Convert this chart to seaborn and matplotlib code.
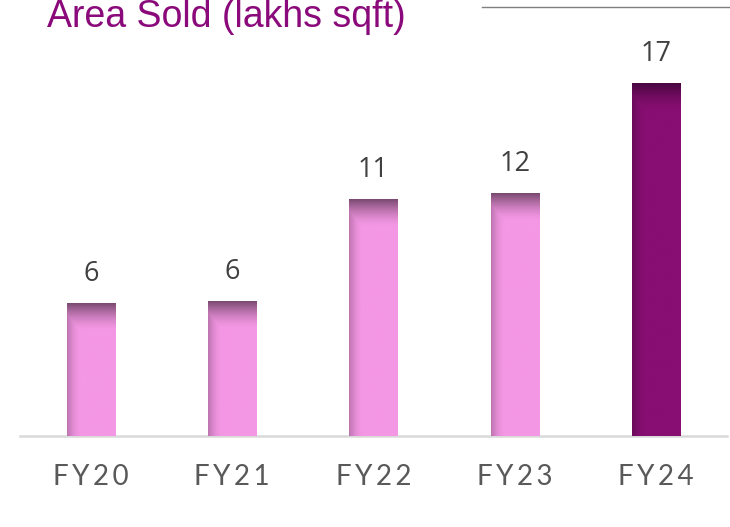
import numpy as np
import pandas as pd
import seaborn as sns
from matplotlib import pyplot as plt
from matplotlib import colors as mpl_colors
from matplotlib.lines import Line2D

years = ["FY20", "FY21", "FY22", "FY23", "FY24"]
area_sold = [6.4, 6.5, 11.4, 11.7, 17.0]
value_labels = ["6", "6", "11", "12", "17"]

PINK = "#F497E4"
PINK_TOP = "#7A4A70"
PLUM = "#870E72"
PLUM_TOP = "#4A0740"


def shade_bar(ax, patch, base, top, band=1.3, left_frac=0.3):
    # gradient overlay: dark top band + soft shadow on the left edge
    x0, y0 = patch.get_x(), patch.get_y()
    w, h = patch.get_width(), patch.get_height()
    ny, nx = 300, 60
    yy = np.linspace(h, 0, ny)[:, None]
    xx = np.linspace(0, 1, nx)[None, :]
    d_top = h - yy
    t_top = np.clip(1 - d_top / band, 0, 1) ** 1.5
    t_left = np.clip(1 - xx / left_frac, 0, 1) ** 2 * 0.45
    t = np.maximum(t_top, t_left)
    b = np.array(mpl_colors.to_rgb(base))
    c = np.array(mpl_colors.to_rgb(top))
    img = b[None, None, :] * (1 - t[..., None]) + c[None, None, :] * t[..., None]
    im = ax.imshow(img, extent=(x0, x0 + w, y0, y0 + h), origin="upper",
                   aspect="auto", zorder=3, interpolation="bilinear")
    im.set_clip_path(patch)


df = pd.DataFrame({"Year": years, "Area": area_sold})

fig = plt.figure(figsize=(7.3, 5.27), dpi=100)
ax = fig.add_axes([20 / 730, 91 / 527, 707 / 730, 436 / 527])

palette = [PINK, PINK, PINK, PINK, PLUM]
sns.barplot(data=df, x="Year", y="Area", hue="Year", palette=palette,
            width=0.34, legend=False, ax=ax, saturation=1, edgecolor="none")

ax.set_xlim(-0.5, 4.5)
ax.set_ylim(0, 21)
for i, p in enumerate(ax.patches):
    if i == 4:
        shade_bar(ax, p, PLUM, PLUM_TOP)
    else:
        shade_bar(ax, p, PINK, PINK_TOP)

for i, p in enumerate(ax.patches):
    ax.annotate(value_labels[i], (p.get_x() + p.get_width() / 2, p.get_height()),
                xytext=(0, 11), textcoords="offset points", ha="center", va="bottom",
                fontsize=19.5, color="#404040", family="Open Sans")

sns.despine(ax=ax, left=True)
ax.spines["bottom"].set_color("#D9D9D9")
ax.spines["bottom"].set_linewidth(1.8)
ax.set_yticks([])
ax.set_xlabel("")
ax.set_ylabel("")
ax.tick_params(axis="x", length=0, pad=20, labelsize=20, labelcolor="#595959")
ax.set_xticks(range(len(years)))
ax.set_xticklabels(["\u2009".join(y) for y in years], family="Lato")
ax.patch.set_alpha(0)

fig.text(47 / 730, 1 - 27 / 527, "Area Sold (lakhs sqft)", fontsize=27,
         color="#8B0A7B", family="Liberation Sans", ha="left", va="baseline")
fig.add_artist(Line2D([482 / 730, 1.0], [1 - 7 / 527, 1 - 7 / 527],
                      color="#7F7F7F", linewidth=1.0))

plt.savefig("out.png", dpi=100)
plt.close(fig)
